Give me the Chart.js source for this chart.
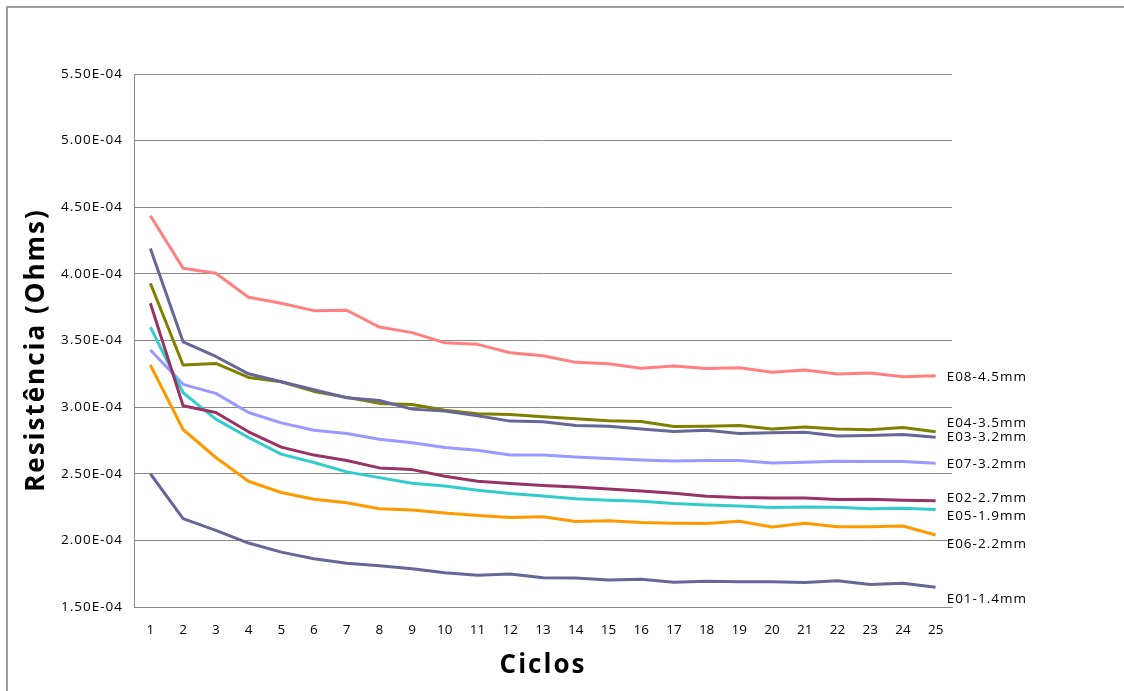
<!DOCTYPE html>
<html>
<head>
<meta charset="utf-8">
<title>Resistência por ciclo</title>
<script src="https://cdn.jsdelivr.net/npm/chart.js@4/dist/chart.umd.min.js"></script>
<style>
  html, body { margin: 0; padding: 0; background: #ffffff; }
  canvas { display: block; }
</style>
</head>
<body>
<canvas id="chart" width="1124" height="691"></canvas>
<script>
// Cycle numbers on the x axis
const ciclos = ['1','2','3','4','5','6','7','8','9','10','11','12','13','14','15','16','17','18','19','20','21','22','23','24','25'];

// Y axis ticks (Ohms) and the text printed beside each
const yTickValues = [1.5e-4, 2.0e-4, 2.5e-4, 3.0e-4, 3.5e-4, 4.0e-4, 4.5e-4, 5.0e-4, 5.5e-4];
const yTickLabels = ['1.50E-04','2.00E-04','2.50E-04','3.00E-04','3.50E-04','4.00E-04','4.50E-04','5.00E-04','5.50E-04'];

// Resistance per cycle for each electrode
const E01 = [2.500e-4, 2.163e-4, 2.075e-4, 1.980e-4, 1.912e-4, 1.862e-4, 1.829e-4, 1.810e-4, 1.787e-4, 1.757e-4, 1.739e-4, 1.747e-4, 1.720e-4, 1.717e-4, 1.702e-4, 1.709e-4, 1.686e-4, 1.694e-4, 1.689e-4, 1.689e-4, 1.684e-4, 1.697e-4, 1.669e-4, 1.679e-4, 1.649e-4];
const E02 = [3.780e-4, 3.010e-4, 2.960e-4, 2.815e-4, 2.700e-4, 2.640e-4, 2.600e-4, 2.544e-4, 2.531e-4, 2.481e-4, 2.444e-4, 2.426e-4, 2.411e-4, 2.401e-4, 2.386e-4, 2.371e-4, 2.353e-4, 2.331e-4, 2.321e-4, 2.318e-4, 2.318e-4, 2.306e-4, 2.308e-4, 2.301e-4, 2.298e-4];
const E03 = [4.190e-4, 3.490e-4, 3.380e-4, 3.250e-4, 3.190e-4, 3.130e-4, 3.070e-4, 3.050e-4, 2.985e-4, 2.970e-4, 2.935e-4, 2.895e-4, 2.890e-4, 2.862e-4, 2.857e-4, 2.835e-4, 2.817e-4, 2.827e-4, 2.802e-4, 2.807e-4, 2.812e-4, 2.784e-4, 2.787e-4, 2.795e-4, 2.774e-4];
const E04 = [3.930e-4, 3.316e-4, 3.328e-4, 3.223e-4, 3.190e-4, 3.118e-4, 3.073e-4, 3.028e-4, 3.020e-4, 2.977e-4, 2.950e-4, 2.945e-4, 2.927e-4, 2.912e-4, 2.897e-4, 2.892e-4, 2.855e-4, 2.857e-4, 2.862e-4, 2.835e-4, 2.850e-4, 2.835e-4, 2.830e-4, 2.847e-4, 2.815e-4];
const E05 = [3.600e-4, 3.108e-4, 2.910e-4, 2.772e-4, 2.647e-4, 2.584e-4, 2.514e-4, 2.471e-4, 2.429e-4, 2.408e-4, 2.376e-4, 2.351e-4, 2.333e-4, 2.313e-4, 2.301e-4, 2.293e-4, 2.276e-4, 2.265e-4, 2.258e-4, 2.246e-4, 2.250e-4, 2.248e-4, 2.238e-4, 2.241e-4, 2.231e-4];
const E06 = [3.316e-4, 2.832e-4, 2.622e-4, 2.444e-4, 2.359e-4, 2.308e-4, 2.283e-4, 2.238e-4, 2.228e-4, 2.205e-4, 2.186e-4, 2.171e-4, 2.178e-4, 2.141e-4, 2.148e-4, 2.135e-4, 2.128e-4, 2.126e-4, 2.143e-4, 2.100e-4, 2.128e-4, 2.103e-4, 2.103e-4, 2.108e-4, 2.040e-4];
const E07 = [3.429e-4, 3.171e-4, 3.103e-4, 2.960e-4, 2.882e-4, 2.827e-4, 2.802e-4, 2.759e-4, 2.732e-4, 2.697e-4, 2.677e-4, 2.641e-4, 2.641e-4, 2.626e-4, 2.614e-4, 2.604e-4, 2.596e-4, 2.599e-4, 2.599e-4, 2.581e-4, 2.586e-4, 2.594e-4, 2.592e-4, 2.592e-4, 2.579e-4];
const E08 = [4.436e-4, 4.043e-4, 4.005e-4, 3.825e-4, 3.780e-4, 3.724e-4, 3.727e-4, 3.601e-4, 3.559e-4, 3.483e-4, 3.471e-4, 3.408e-4, 3.386e-4, 3.336e-4, 3.326e-4, 3.291e-4, 3.308e-4, 3.289e-4, 3.296e-4, 3.261e-4, 3.278e-4, 3.248e-4, 3.256e-4, 3.228e-4, 3.235e-4];

const seriesNames = ['E01-1.4mm','E02-2.7mm','E03-3.2mm','E04-3.5mm','E05-1.9mm','E06-2.2mm','E07-3.2mm','E08-4.5mm'];
const seriesData  = [E01, E02, E03, E04, E05, E06, E07, E08];
const seriesColors = ['#666699','#993366','#666699','#808000','#33CCCC','#FF9900','#9999FF','#FF8080'];

// vertical nudges for the end-of-line names so they do not collide
const nameShift = { 'E01-1.4mm': 12.5, 'E02-2.7mm': -2.5, 'E03-3.2mm': -0.5, 'E04-3.5mm': -8.5,
                    'E05-1.9mm': 6.5, 'E06-2.2mm': 9.5, 'E07-3.2mm': 0.5, 'E08-4.5mm': 1.5 };

const FONT = "'Open Sans', 'Liberation Sans', sans-serif";

// wrap a scale drawing method so its text gets letter spacing (and an optional shift)
function spaced(scale, method, px, dx, dy) {
  const flag = '__spaced_' + method;
  if (scale[flag]) return;
  const orig = scale[method];
  scale[method] = function (...args) {
    const ctx = this.ctx;
    ctx.save();
    ctx.letterSpacing = px + 'px';
    if (dx || dy) ctx.translate(dx || 0, dy || 0);
    orig.apply(this, args);
    ctx.restore();
  };
  scale[flag] = true;
}

const framePlugin = {
  id: 'frame',
  beforeDraw(chart) {
    const ctx = chart.ctx;
    ctx.save();
    ctx.fillStyle = '#ffffff';
    ctx.fillRect(0, 0, chart.width, chart.height);
    ctx.strokeStyle = '#9f9f9f';
    ctx.lineWidth = 2;
    ctx.beginPath();
    ctx.moveTo(7, chart.height);
    ctx.lineTo(7, 7);
    ctx.lineTo(chart.width, 7);
    ctx.stroke();
    ctx.restore();

    spaced(chart.scales.y, 'drawTitle', 2, 0, 9.5);
    spaced(chart.scales.x, 'drawTitle', 2, 0, 0);
    spaced(chart.scales.y, 'drawLabels', 1, 0, 0);
  }
};

const endNamesPlugin = {
  id: 'endNames',
  afterDatasetsDraw(chart) {
    const ctx = chart.ctx;
    ctx.save();
    ctx.font = '13.5px ' + FONT;
    ctx.letterSpacing = '1px';
    ctx.fillStyle = '#000000';
    ctx.textAlign = 'left';
    ctx.textBaseline = 'middle';
    chart.data.datasets.forEach((ds, i) => {
      const meta = chart.getDatasetMeta(i);
      const last = meta.data[meta.data.length - 1];
      if (!last) return;
      ctx.fillText(ds.label, last.x + 11, last.y + (nameShift[ds.label] || 0));
    });
    ctx.restore();
  }
};

new Chart(document.getElementById('chart'), {
  type: 'line',
  data: {
    labels: ciclos,
    datasets: seriesNames.map((name, i) => ({
      label: name,
      data: seriesData[i],
      borderColor: seriesColors[i],
      backgroundColor: seriesColors[i],
      borderWidth: 3,
      pointRadius: 0,
      pointHoverRadius: 0,
      tension: 0,
      fill: false,
      borderJoinStyle: 'round',
      borderCapStyle: 'butt'
    }))
  },
  options: {
    responsive: false,
    animation: false,
    events: [],
    layout: { padding: { top: 74, right: 172, bottom: 0, left: 0 } },
    plugins: {
      legend: { display: false },
      tooltip: { enabled: false },
      title: { display: false }
    },
    scales: {
      x: {
        type: 'category',
        offset: true,
        grid: { display: false, drawTicks: false },
        border: { display: true, color: '#8a8a8a', width: 1 },
        ticks: { color: '#000000', font: { family: FONT, size: 13.5 }, padding: 15, maxRotation: 0, autoSkip: false },
        title: {
          display: true,
          text: 'Ciclos',
          color: '#000000',
          font: { family: FONT, size: 26, weight: 'bold' },
          padding: { top: 0, bottom: 10 }
        },
        afterFit(scale) { scale.height = 84; }
      },
      y: {
        type: 'linear',
        min: yTickValues[0],
        max: yTickValues[yTickValues.length - 1],
        grid: { color: '#8a8a8a', lineWidth: 1, drawTicks: false },
        border: { display: true, color: '#8a8a8a', width: 1 },
        afterBuildTicks(scale) { scale.ticks = yTickValues.map(v => ({ value: v })); },
        ticks: {
          color: '#000000',
          font: { family: FONT, size: 13.5 },
          padding: 11,
          callback: (value) => {
            const k = yTickValues.findIndex(v => Math.abs(v - value) < 1e-9);
            return k >= 0 ? yTickLabels[k] : '';
          }
        },
        title: {
          display: true,
          text: 'Resistência (Ohms)',
          color: '#000000',
          font: { family: FONT, size: 26, weight: 'bold' },
          padding: { top: 21, bottom: 0 }
        },
        afterFit(scale) { scale.width = 134; }
      }
    }
  },
  plugins: [framePlugin, endNamesPlugin]
});
</script>
</body>
</html>
